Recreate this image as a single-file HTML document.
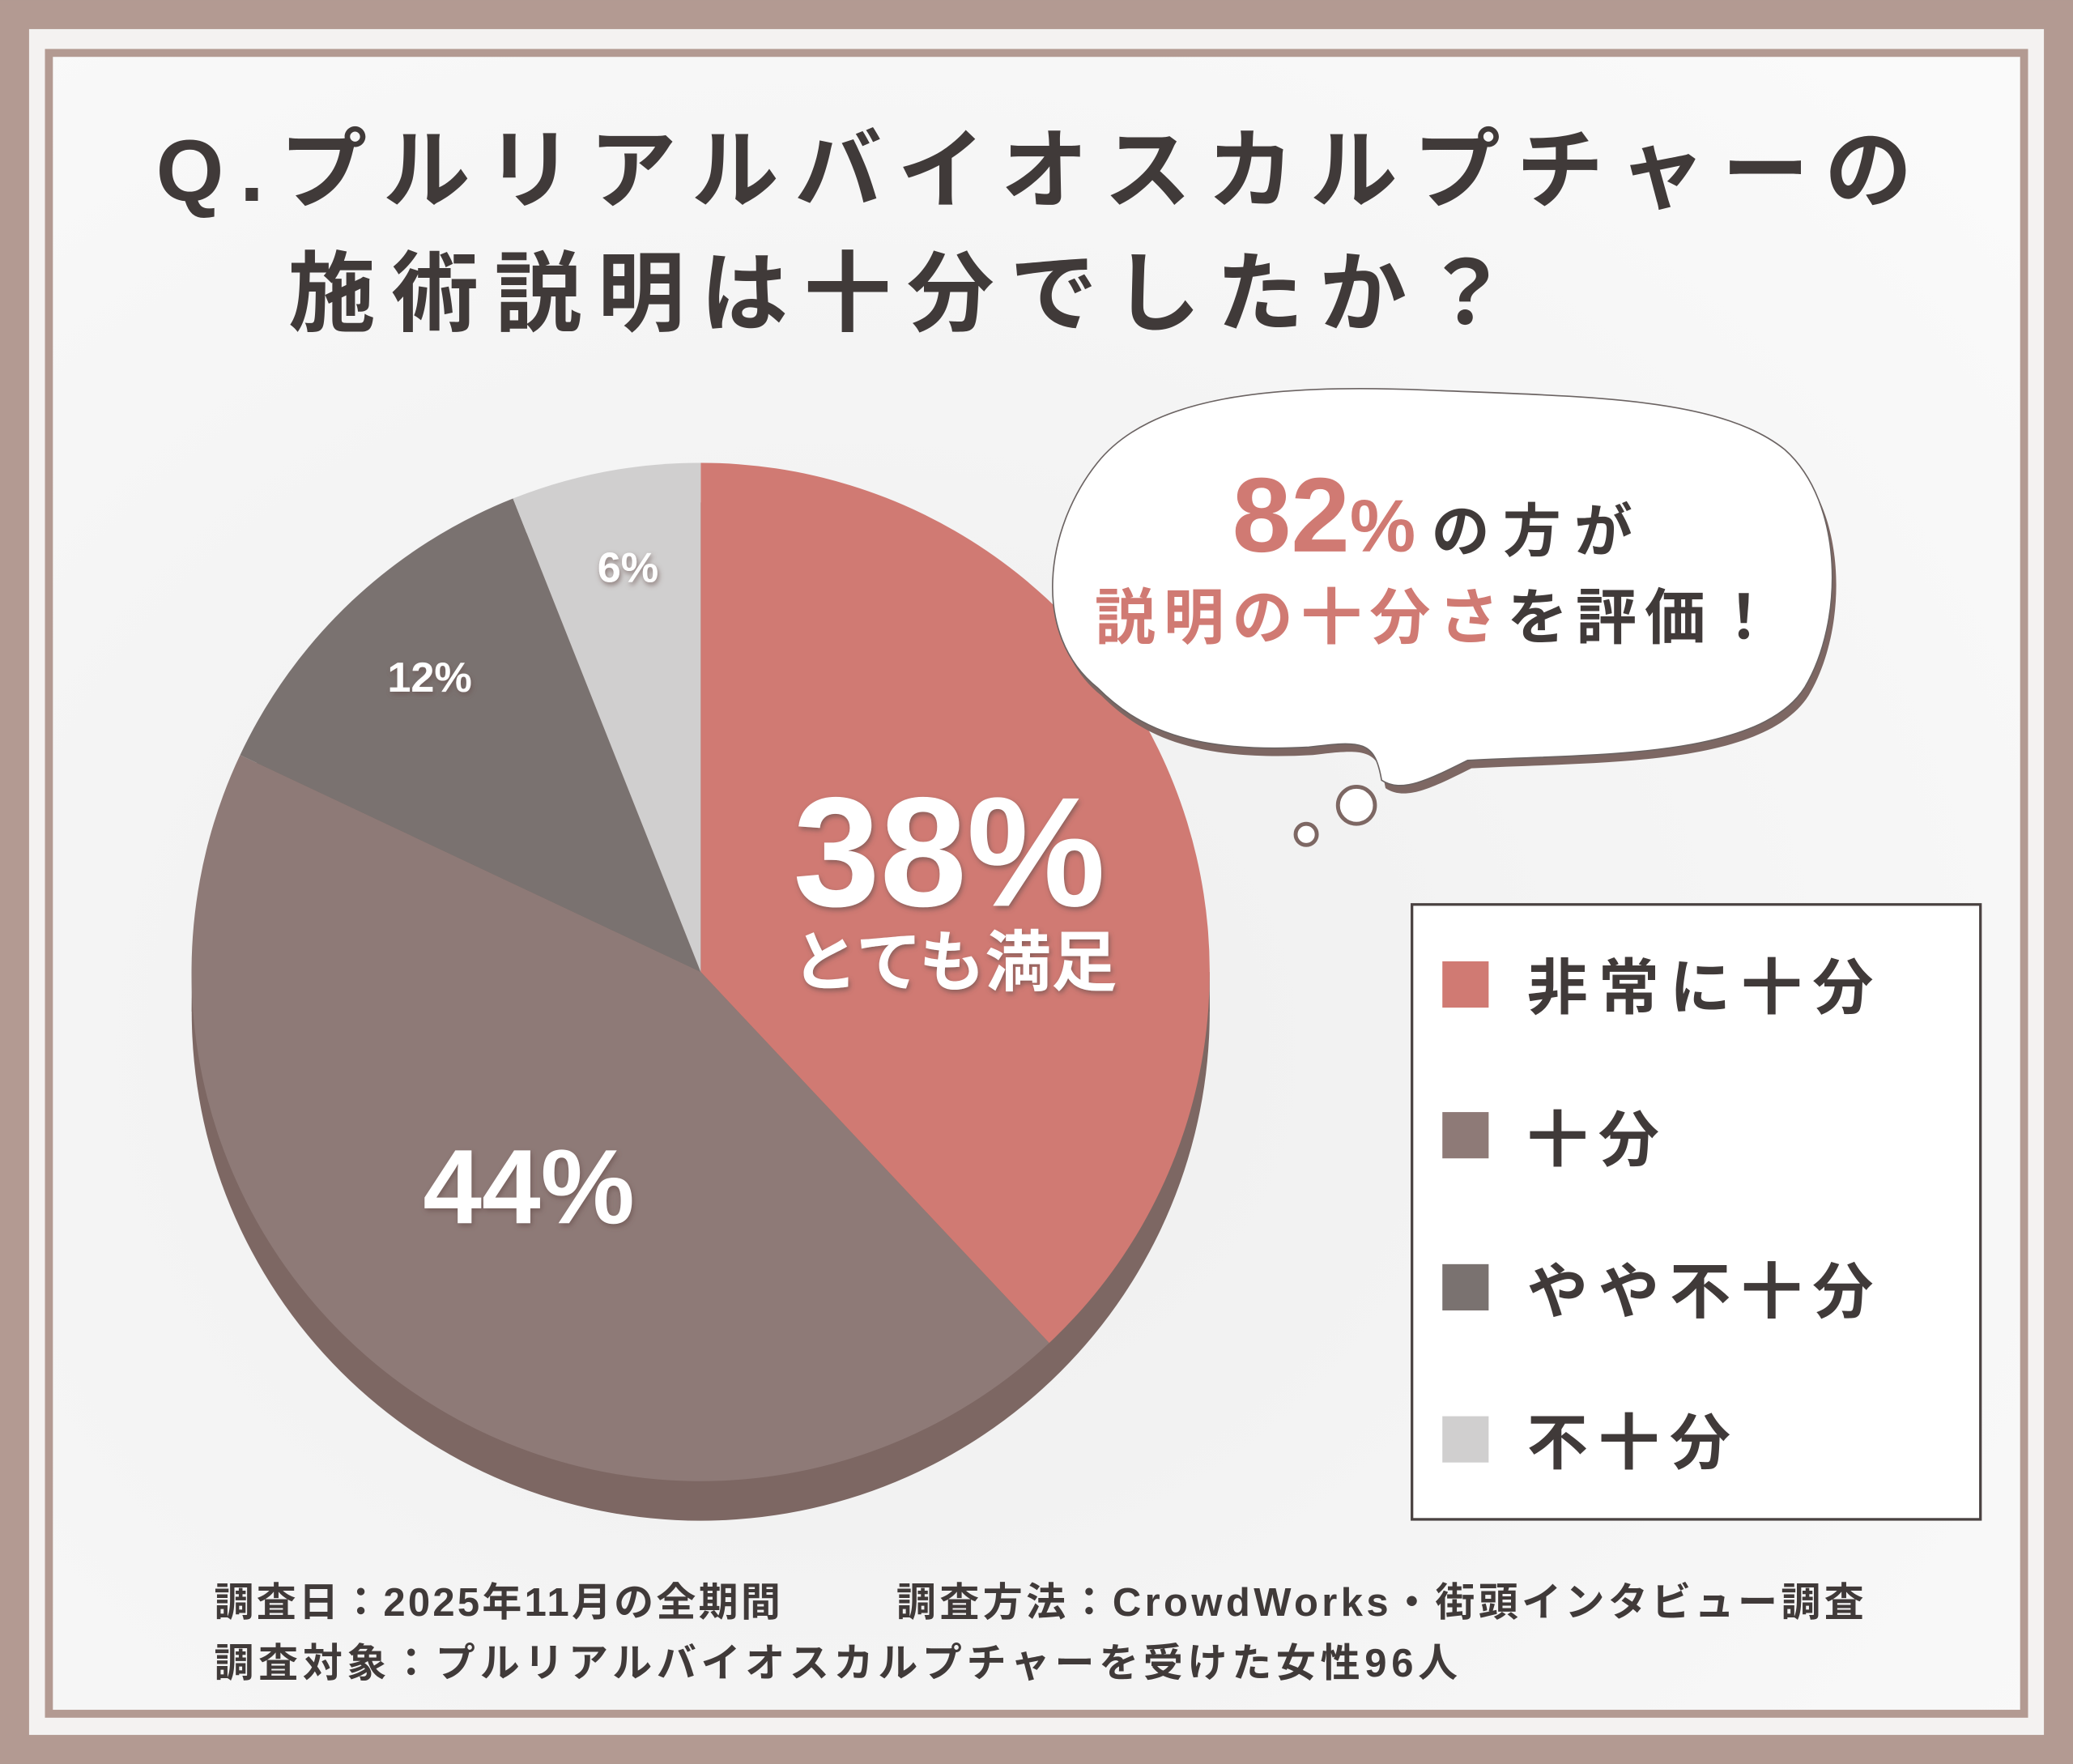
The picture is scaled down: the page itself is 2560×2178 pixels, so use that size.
<!DOCTYPE html>
<html><head><meta charset="utf-8"><style>
html,body{margin:0;padding:0;background:#b39a92}
svg{display:block}
text{font-family:"Liberation Sans","Noto Sans CJK JP",sans-serif}
</style></head><body>
<svg width="2560" height="2178" viewBox="0 0 1568 1334" xmlns="http://www.w3.org/2000/svg">
<defs>
<filter id="sh" x="-20%" y="-20%" width="140%" height="140%"><feDropShadow dx="1" dy="2" stdDeviation="2" flood-color="#6b5350" flood-opacity="0.7"/></filter>
<radialGradient id="bg" cx="0.4" cy="0.6" r="0.8"><stop offset="0" stop-color="#eeeeee"/><stop offset="1" stop-color="#fafafa"/></radialGradient>
</defs>
<rect x="0" y="0" width="1568" height="1334" fill="#b39a92"/>
<rect x="22" y="22" width="1524" height="1290" fill="#f4f2f1"/>
<rect x="37" y="40" width="1494" height="1256" fill="url(#bg)" stroke="#b39a92" stroke-width="6"/>
<text x="118" y="152" font-size="66" font-weight="bold" fill="#403a39" letter-spacing="12">Q.プルリアルバイオスカルプチャーの</text>
<text x="218" y="245" font-size="66" font-weight="bold" fill="#403a39" letter-spacing="12">施術説明は十分でしたか？</text>
<g transform="translate(0,30)">
<circle cx="530" cy="735" r="385" fill="#7d6763"/>
</g>
<rect x="145" y="735" width="770" height="30" fill="#7d6763"/>
<path d="M530 735 L530 350 A385 385 0 0 1 793.6 1015.6 Z" fill="#d07a73"/>
<path d="M530 735 L793.6 1015.6 A385 385 0 0 1 181.6 571 Z" fill="#8e7a77"/>
<path d="M530 735 L181.6 571 A385 385 0 0 1 388 377 Z" fill="#7a7270"/>
<path d="M530 735 L388 377 A385 385 0 0 1 530 350 Z" fill="#d0cfcf"/>
<g filter="url(#sh)" fill="#fff" font-weight="bold">
<text x="718" y="685" font-size="118" text-anchor="middle">38%</text>
<text x="722" y="745" font-size="50" text-anchor="middle">とても満足</text>
<text x="400" y="925" font-size="80" text-anchor="middle">44%</text>
<text x="325" y="523" font-size="32" text-anchor="middle">12%</text>
<text x="475" y="440" font-size="32" text-anchor="middle">6%</text>
</g>
<path d="M830 520 C780 480 790 400 830 350 C870 300 960 290 1080 295 C1200 300 1300 300 1350 340 C1395 380 1395 470 1365 520 C1330 575 1200 570 1110 575 C1080 590 1060 600 1045 590 C1040 560 1030 560 990 565 C900 570 860 550 830 520 Z" fill="#7d6763" transform="translate(3,6)"/>
<path d="M830 520 C780 480 790 400 830 350 C870 300 960 290 1080 295 C1200 300 1300 300 1350 340 C1395 380 1395 470 1365 520 C1330 575 1200 570 1110 575 C1080 590 1060 600 1045 590 C1040 560 1030 560 990 565 C900 570 860 550 830 520 Z" fill="#fff" stroke="#6b6362" stroke-width="1"/>
<circle cx="1026" cy="609" r="14" fill="#fff" stroke="#7d6763" stroke-width="3"/>
<circle cx="988" cy="631" r="8" fill="#fff" stroke="#7d6763" stroke-width="3"/>
<text x="932" y="417" font-size="80" font-weight="bold" fill="#d07a73">82<tspan font-size="56">%</tspan><tspan font-size="44" fill="#403a39" dx="12" letter-spacing="10">の方が</tspan></text>
<text x="828" y="483" font-size="46" font-weight="bold" fill="#d07a73" letter-spacing="6">説明の十分さ<tspan fill="#403a39">を評価！</tspan></text>
<rect x="1068" y="684" width="430" height="465" fill="#fff" stroke="#4a4241" stroke-width="2"/>
<rect x="1091" y="727" width="35" height="35" fill="#d07a73"/>
<rect x="1091" y="841" width="35" height="35" fill="#8e7a77"/>
<rect x="1091" y="956" width="35" height="35" fill="#7a7270"/>
<rect x="1091" y="1071" width="35" height="35" fill="#d0cfcf"/>
<g font-size="46" font-weight="bold" fill="#403a39" letter-spacing="8">
<text x="1155" y="763">非常に十分</text>
<text x="1155" y="878">十分</text>
<text x="1155" y="993">やや不十分</text>
<text x="1155" y="1107">不十分</text>
</g>
<g font-size="30" font-weight="bold" fill="#403a39">
<text x="162" y="1222" letter-spacing="2">調査日：2025年11月の全期間</text>
<text x="678" y="1222" letter-spacing="2.7">調査方法：CrowdWorks・街頭インタビュー調査</text>
<text x="162" y="1268" letter-spacing="3.5">調査対象：プルリアルバイオスカルプチャーを受けた女性96人</text>
</g>
</svg>
</body></html>
